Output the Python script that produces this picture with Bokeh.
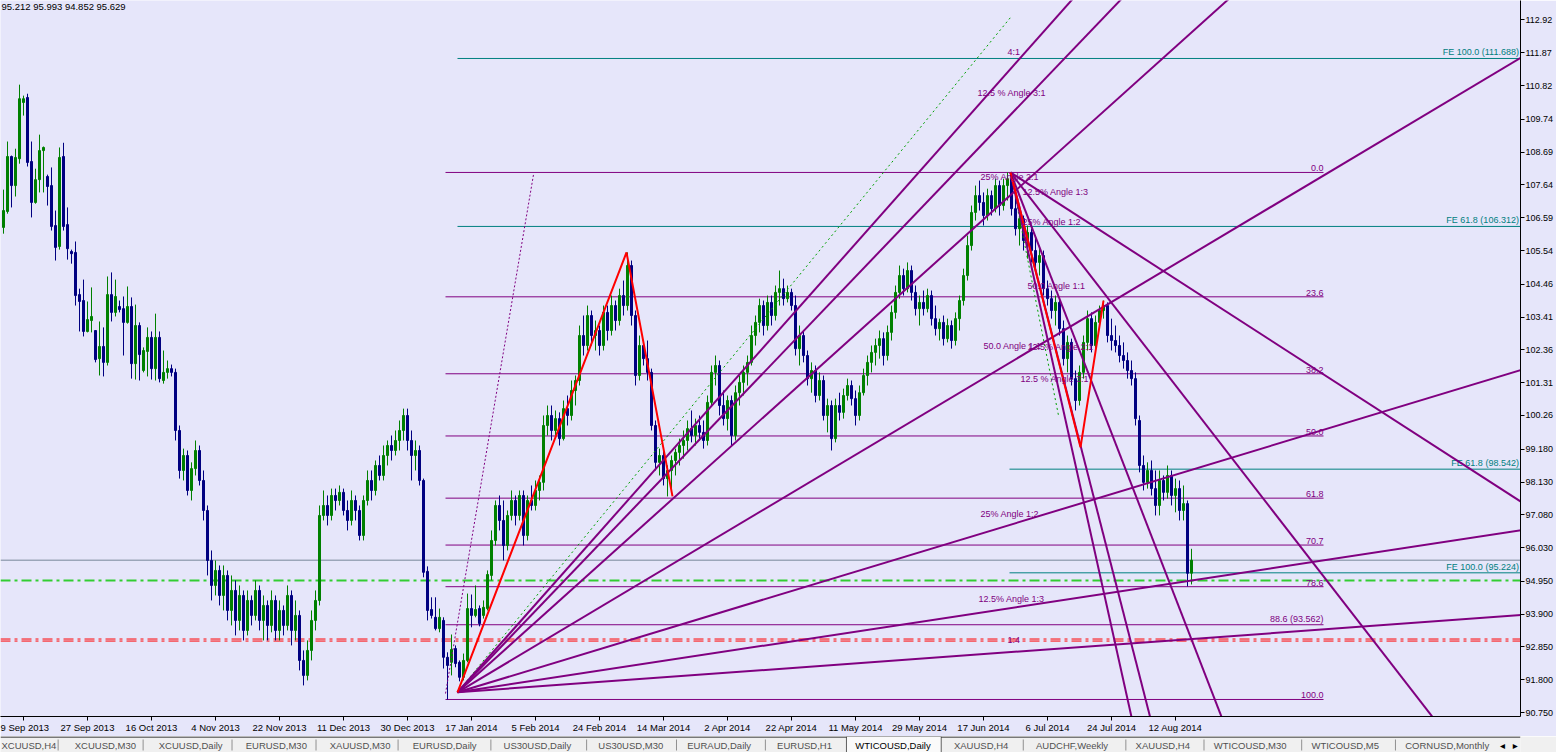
from bokeh.plotting import figure
from bokeh.models import FixedTicker, Range1d, Label
from bokeh.layouts import column
from bokeh.embed import file_html
from bokeh.resources import INLINE
from bokeh.core.properties import value

# ---------------- candles (daily bars, OHLC) ----------------
bar_index = list(range(298))
opens = [
    106.28, 106.79, 108.55, 107.62, 108.48, 110.28, 110.44, 108.39, 107.08, 107.81,
    108.74, 107.91, 107.62, 106.34, 105.67, 108.55, 106.37, 105.51, 105.48, 104.13,
    103.94, 102.95, 103.30, 102.98, 102.08, 102.47, 101.96, 104.13, 103.56, 103.75,
    103.68, 103.24, 103.75, 101.92, 103.14, 101.70, 102.31, 102.76, 101.76, 102.76,
    101.38, 101.64, 101.76, 101.64, 99.78, 98.50, 98.98, 97.86, 98.56, 99.14,
    98.18, 97.22, 95.62, 94.82, 95.30, 94.50, 95.14, 94.02, 94.66, 93.70,
    94.50, 93.38, 94.34, 93.86, 94.66, 93.70, 94.18, 93.54, 94.34, 93.38,
    94.02, 93.54, 94.50, 93.38, 93.86, 92.42, 91.94, 92.74, 93.70, 94.34,
    97.06, 97.38, 97.06, 97.70, 97.54, 97.80, 97.22, 96.90, 97.54, 97.22,
    96.42, 97.54, 98.18, 97.86, 98.66, 98.34, 98.98, 99.30, 99.14, 99.46,
    99.78, 100.26, 99.46, 98.98, 99.14, 98.18, 95.27, 94.05, 93.80, 93.44,
    93.70, 92.52, 92.36, 92.80, 92.36, 91.88, 92.42, 94.08, 93.86, 94.08,
    93.86, 94.08, 95.14, 96.26, 97.38, 96.90, 96.10, 97.06, 97.54, 97.06,
    97.70, 96.42, 97.54, 97.38, 97.86, 98.12, 99.94, 100.26, 99.78, 100.16,
    99.52, 100.48, 100.26, 101.06, 101.38, 102.82, 102.50, 103.46, 102.82, 102.98,
    102.50, 103.56, 102.98, 103.78, 103.30, 104.10, 103.78, 105.06, 103.46, 101.54,
    102.50, 102.08, 101.64, 99.94, 98.76, 98.98, 98.24, 98.50, 98.82, 99.08,
    99.30, 99.46, 99.84, 99.62, 99.94, 99.72, 99.46, 100.68, 101.64, 101.86,
    100.58, 100.16, 100.74, 99.62, 100.99, 101.32, 101.64, 101.96, 102.82, 103.24,
    103.78, 103.14, 103.88, 103.46, 104.20, 104.32, 104.00, 104.20, 103.78, 102.40,
    102.82, 102.18, 101.44, 101.70, 100.90, 101.38, 100.26, 100.58, 99.52, 100.58,
    100.36, 100.90, 101.22, 100.80, 100.26, 100.99, 101.54, 101.96, 102.28, 102.50,
    102.72, 102.18, 102.92, 103.56, 104.20, 104.74, 104.32, 104.90, 104.20, 103.68,
    103.88, 103.68, 104.10, 103.36, 103.04, 103.24, 102.72, 103.14, 102.66, 103.36,
    103.94, 104.74, 105.70, 106.76, 107.30, 107.08, 106.66, 107.30, 106.88, 107.62,
    106.98, 107.62, 107.84, 106.88, 106.24, 106.56, 105.86, 106.12, 105.54, 105.16,
    105.38, 104.32, 104.00, 103.62, 103.88, 103.04, 102.08, 102.60, 101.44, 100.74,
    101.64, 102.60, 103.36, 102.50, 103.24, 103.62, 103.78, 102.82, 102.66, 102.50,
    102.18, 102.02, 101.70, 101.44, 100.10, 98.66, 98.12, 98.50, 97.92, 97.38,
    98.18, 97.80, 98.34, 97.70, 97.92, 97.22, 97.44, 95.212]
highs = [
    107.49, 109.03, 108.58, 108.80, 110.85, 110.50, 110.56, 109.03, 108.16, 109.25,
    108.87, 107.97, 108.20, 106.82, 108.84, 108.99, 106.92, 105.57, 105.83, 104.32,
    104.61, 103.91, 104.36, 102.98, 103.27, 103.08, 104.71, 104.84, 104.61, 103.94,
    104.07, 104.39, 104.04, 103.81, 103.24, 102.44, 103.08, 102.95, 103.52, 102.95,
    102.34, 102.02, 101.89, 101.76, 99.94, 99.20, 99.14, 98.76, 99.46, 99.30,
    98.50, 97.38, 95.94, 95.62, 95.46, 95.46, 95.30, 95.14, 94.98, 94.82,
    94.66, 94.66, 94.50, 94.98, 94.82, 94.50, 94.34, 94.66, 94.50, 94.34,
    94.18, 94.82, 94.66, 94.34, 94.02, 92.74, 93.06, 94.02, 94.66, 97.38,
    97.86, 97.70, 97.92, 97.92, 98.02, 97.92, 97.54, 97.86, 97.70, 97.38,
    97.70, 98.50, 98.50, 98.82, 98.98, 99.30, 99.46, 99.62, 99.78, 100.10,
    100.48, 100.48, 99.78, 99.46, 99.30, 98.24, 95.43, 94.44, 94.44, 94.08,
    93.80, 92.68, 93.25, 92.90, 92.42, 92.64, 94.56, 94.53, 94.82, 94.18,
    94.34, 95.30, 96.58, 97.54, 97.70, 97.54, 97.22, 97.86, 97.70, 97.86,
    97.86, 97.70, 98.02, 98.18, 98.34, 100.26, 100.58, 100.58, 100.42, 100.36,
    100.74, 100.90, 101.38, 101.54, 103.14, 103.46, 103.78, 103.62, 103.30, 103.14,
    103.78, 103.78, 104.10, 103.94, 104.32, 104.58, 105.48, 105.22, 103.62, 102.82,
    102.66, 102.66, 101.76, 100.10, 99.20, 99.14, 98.66, 98.98, 99.20, 99.52,
    99.78, 100.10, 100.42, 100.16, 100.26, 100.10, 100.90, 101.86, 102.18, 102.02,
    101.06, 100.90, 100.90, 101.22, 101.54, 101.86, 102.18, 103.14, 103.46, 104.00,
    103.94, 104.10, 104.10, 104.42, 104.90, 104.64, 104.42, 104.32, 104.10, 103.14,
    102.98, 102.34, 101.96, 101.86, 101.64, 101.54, 100.80, 100.74, 100.80, 100.99,
    101.12, 101.44, 101.38, 101.06, 101.22, 101.76, 102.18, 102.50, 102.72, 102.98,
    102.92, 103.14, 103.78, 104.42, 105.06, 104.96, 105.16, 105.06, 104.42, 104.10,
    104.26, 104.32, 104.26, 103.78, 103.36, 103.46, 103.36, 103.30, 103.56, 104.10,
    104.96, 106.02, 106.98, 107.62, 107.78, 107.40, 107.52, 107.46, 107.84, 107.78,
    107.84, 108.04, 108.04, 107.30, 106.82, 106.66, 106.34, 106.24, 106.02, 105.70,
    105.54, 104.58, 104.26, 104.10, 104.00, 103.30, 102.82, 102.72, 101.70, 101.86,
    102.82, 103.62, 103.56, 103.46, 103.78, 103.94, 103.88, 103.36, 103.14, 102.82,
    102.60, 102.28, 102.02, 101.64, 100.26, 98.98, 98.76, 98.82, 98.50, 98.50,
    98.34, 98.66, 98.50, 98.24, 98.18, 98.02, 97.54, 95.993]
lows = [
    106.08, 106.72, 106.92, 107.27, 108.32, 109.86, 108.23, 106.60, 107.04, 107.40,
    107.40, 106.98, 106.18, 105.22, 105.57, 106.18, 105.25, 105.12, 103.78, 102.95,
    102.79, 102.92, 102.92, 101.96, 101.54, 101.51, 101.86, 103.27, 103.43, 103.56,
    102.18, 103.20, 101.44, 101.41, 101.38, 101.64, 101.51, 101.41, 101.38, 101.32,
    101.28, 101.44, 101.51, 99.46, 98.24, 98.18, 97.70, 97.54, 98.34, 98.02,
    96.90, 95.14, 94.34, 94.50, 94.18, 94.02, 93.70, 93.54, 93.22, 93.38,
    93.06, 93.22, 93.54, 93.70, 93.38, 93.06, 93.06, 93.32, 93.06, 93.06,
    93.22, 93.38, 92.90, 93.06, 92.10, 91.62, 91.78, 92.42, 93.38, 94.18,
    96.90, 96.74, 96.90, 97.22, 97.38, 97.06, 96.58, 96.74, 96.90, 96.26,
    96.26, 97.38, 97.54, 97.70, 98.18, 98.18, 98.66, 98.82, 98.98, 99.14,
    99.46, 99.14, 98.18, 98.50, 98.02, 95.08, 93.70, 93.76, 93.38, 93.32,
    92.16, 91.17, 91.94, 92.20, 91.75, 91.78, 92.36, 93.48, 93.80, 93.51,
    93.76, 94.02, 94.98, 96.10, 96.58, 95.62, 95.94, 96.90, 96.74, 96.90,
    96.10, 96.26, 97.22, 97.22, 97.54, 97.86, 99.62, 99.46, 99.62, 99.30,
    99.46, 99.94, 100.10, 100.58, 101.22, 102.18, 102.34, 102.50, 102.34, 102.18,
    102.34, 102.66, 102.82, 102.98, 103.14, 103.46, 103.62, 103.14, 101.22, 101.38,
    101.86, 101.38, 99.78, 98.50, 98.34, 98.02, 97.67, 97.86, 98.34, 98.66,
    98.88, 99.14, 99.40, 99.30, 99.46, 99.20, 99.30, 100.58, 101.22, 100.26,
    99.94, 99.78, 99.30, 99.46, 100.58, 100.90, 101.22, 101.86, 102.50, 102.92,
    102.82, 102.98, 103.14, 103.30, 103.78, 103.78, 103.88, 103.62, 102.18, 101.86,
    101.96, 101.22, 100.99, 100.68, 100.74, 100.10, 99.72, 99.14, 99.40, 100.10,
    100.16, 100.74, 100.58, 99.94, 100.10, 100.90, 101.22, 101.64, 101.86, 102.08,
    101.86, 102.02, 102.66, 103.36, 104.00, 104.10, 104.20, 103.94, 103.46, 103.14,
    103.46, 103.56, 103.14, 102.82, 102.66, 102.50, 102.60, 102.40, 102.50, 102.98,
    103.78, 104.58, 105.54, 106.50, 106.82, 106.34, 106.50, 106.66, 106.76, 106.66,
    106.82, 107.14, 106.66, 106.02, 105.70, 105.54, 105.28, 105.16, 104.84, 104.74,
    104.10, 103.78, 103.36, 103.14, 102.82, 101.86, 101.64, 101.22, 100.42, 100.58,
    101.44, 102.34, 102.28, 102.34, 103.04, 103.36, 102.60, 102.34, 102.28, 101.96,
    101.76, 101.44, 101.22, 99.94, 98.44, 97.86, 97.92, 97.70, 97.06, 97.06,
    97.54, 97.60, 97.38, 97.16, 96.90, 96.90, 94.79, 94.852]
closes = [
    106.82, 108.55, 107.62, 108.52, 110.40, 110.40, 108.36, 107.08, 107.81, 108.74,
    108.84, 107.59, 106.31, 105.64, 108.52, 106.31, 105.60, 105.44, 104.10, 103.91,
    102.95, 103.33, 103.43, 102.05, 102.47, 101.96, 104.13, 103.56, 104.07, 103.65,
    103.24, 103.75, 101.92, 103.14, 102.21, 102.34, 102.76, 101.76, 102.76, 101.44,
    101.64, 101.76, 101.64, 99.78, 98.50, 98.98, 97.86, 98.56, 99.14, 98.18,
    97.22, 95.62, 94.82, 95.30, 94.50, 95.14, 94.02, 94.66, 93.70, 94.50,
    93.38, 94.34, 93.86, 94.66, 93.70, 94.18, 93.54, 94.34, 93.38, 94.02,
    93.54, 94.50, 93.38, 93.86, 92.42, 91.94, 92.74, 93.70, 94.34, 97.06,
    97.38, 97.06, 97.70, 97.54, 97.80, 97.22, 96.90, 97.54, 97.22, 96.42,
    97.54, 98.18, 97.86, 98.66, 98.34, 98.98, 99.30, 99.14, 99.46, 99.78,
    100.26, 99.46, 98.98, 99.14, 98.18, 95.24, 94.02, 93.86, 93.44, 93.80,
    92.52, 92.26, 92.77, 92.32, 91.88, 92.42, 94.08, 93.86, 94.05, 93.60,
    94.12, 95.17, 96.26, 97.38, 96.90, 96.10, 97.06, 97.54, 97.06, 97.70,
    96.42, 97.54, 97.38, 97.86, 98.12, 99.94, 100.26, 99.78, 100.16, 99.52,
    100.48, 100.26, 101.06, 101.38, 102.82, 102.50, 103.46, 102.82, 102.98, 102.50,
    103.56, 102.98, 103.78, 103.30, 104.10, 103.78, 105.06, 103.46, 101.54, 102.50,
    102.08, 101.64, 99.94, 98.76, 98.98, 98.24, 98.50, 98.82, 99.08, 99.30,
    99.46, 99.84, 99.62, 99.94, 99.72, 99.46, 100.68, 101.64, 101.86, 100.58,
    100.16, 100.74, 99.62, 100.99, 101.32, 101.64, 101.96, 102.82, 103.24, 103.78,
    103.14, 103.88, 103.46, 104.20, 104.32, 104.00, 104.20, 103.78, 102.40, 102.82,
    102.18, 101.44, 101.70, 100.90, 101.38, 100.26, 100.58, 99.52, 100.58, 100.36,
    100.90, 101.22, 100.80, 100.26, 100.99, 101.54, 101.96, 102.28, 102.50, 102.72,
    102.18, 102.92, 103.56, 104.20, 104.74, 104.32, 104.90, 104.20, 103.68, 103.88,
    103.68, 104.10, 103.36, 103.04, 103.24, 102.72, 103.14, 102.66, 103.36, 103.94,
    104.74, 105.70, 106.76, 107.30, 107.08, 106.66, 107.30, 106.88, 107.62, 106.98,
    107.62, 107.84, 106.88, 106.24, 106.56, 105.86, 106.12, 105.54, 105.16, 105.38,
    104.32, 104.00, 103.62, 103.88, 103.04, 102.08, 102.60, 101.44, 100.74, 101.64,
    102.60, 103.36, 102.50, 103.24, 103.62, 103.78, 102.82, 102.66, 102.50, 102.18,
    102.02, 101.70, 101.44, 100.16, 98.66, 98.12, 98.50, 97.92, 97.38, 98.18,
    97.80, 98.34, 97.70, 97.92, 97.22, 97.44, 95.21, 95.629]

# ---------------- axes ----------------
price_ticks = [112.92, 111.87, 110.82, 109.74, 108.69, 107.64, 106.59, 105.54, 104.46, 103.41,
               102.36, 101.31, 100.26, 99.18, 98.13, 97.08, 96.03, 94.95, 93.90, 92.85, 91.80, 90.75]
price_tick_labels = ["112.92", "111.87", "110.82", "109.74", "108.69", "107.64", "106.59", "105.54",
                     "104.46", "103.41", "102.36", "101.31", "100.26", "99.180", "98.130", "97.080",
                     "96.030", "94.950", "93.900", "92.850", "91.800", "90.750"]
date_tick_bars = [5, 21, 37, 53, 69, 85, 101, 117, 133, 149, 165, 181, 197, 213, 229, 245, 261, 277, 293]
date_tick_labels = ["9 Sep 2013", "27 Sep 2013", "16 Oct 2013", "4 Nov 2013", "22 Nov 2013",
                    "11 Dec 2013", "30 Dec 2013", "17 Jan 2014", "5 Feb 2014", "24 Feb 2014",
                    "14 Mar 2014", "2 Apr 2014", "22 Apr 2014", "11 May 2014", "29 May 2014",
                    "17 Jun 2014", "6 Jul 2014", "24 Jul 2014", "12 Aug 2014"]

header_text = "95.212 95.993 94.852 95.629"
last_price = 95.629
green_level = 94.98
red_levels = [93.105, 93.04]

# Fibonacci retracement
fib_bars = [110.5, 330.0]
fib_high, fib_low = 108.04, 91.17
fib_ratios = [0.0, 23.6, 38.2, 50.0, 61.8, 70.7, 78.6, 100.0]
fib_labels = ["0.0", "23.6", "38.2", "50.0", "61.8", "70.7", "78.6", "100.0"]
extra_level = 93.562
extra_label = "88.6 (93.562)"

# Fibonacci expansion
fe_levels = [111.688, 106.312, 98.542, 95.224]
fe_labels = ["FE 100.0 (111.688)", "FE 61.8 (106.312)", "FE 61.8 (98.542)", "FE 100.0 (95.224)"]
fe_start_bars = [113.5, 113.5, 251.5, 251.5]

# Gann fans (origin bar, origin price, slopes in price per bar)
fan1_origin = (113.5, 91.40)
fan1_slopes = [0.1443, 0.1337, 0.1151, 0.0764, 0.0388, 0.0195, 0.0093]
fan2_origin = (251.75, 108.04)
fan2_slopes = [-0.0826, -0.1652, -0.3303, -0.4994, -0.5762]

# zig-zags and dotted lines
red_leg1 = ([113.5, 155.75, 167.25], [91.40, 105.48, 97.67])
red_leg2 = ([251.75, 269.25, 275.0], [108.04, 99.24, 103.94])
green_dot1 = ([113.5, 251.75], [91.40, 113.0])
green_dot2 = ([251.75, 263.75], [108.04, 100.26])
purple_dot = ([110.5, 132.5], [91.36, 107.97])

gann_texts = ["4:1", "12.5 % Angle 3:1", "25%  Angle 2:1", "12.5% Angle 1:3", "25%  Angle 1:2",
              "50.0 Angle 1:1", "50.0 Angle 1:1", "12.5%  Angle 2:1", "12.5 % Angle 3:1",
              "25%  Angle 1:2", "12.5% Angle 1:3", "1:4"]
gann_text_bars = [251.0, 243.5, 244.25, 254.75, 254.75, 256.0, 245.0, 256.0, 254.25, 244.25, 243.75, 251.0]
gann_text_prices = [111.88, 110.57, 107.88, 107.40, 106.44, 104.42, 102.47, 102.44, 101.44, 97.12, 94.40, 93.06]

tab_names = ["XCUUSD,H4", "XCUUSD,M30", "XCUUSD,Daily", "EURUSD,M30", "XAUUSD,M30", "EURUSD,Daily",
             "US30USD,Daily", "US30USD,M30", "EURAUD,Daily", "EURUSD,H1", "WTICOUSD,Daily",
             "XAUUSD,H4", "AUDCHF,Weekly", "XAUUSD,H4", "WTICOUSD,M30", "WTICOUSD,M5", "CORNUSD,Monthly"]
active_tab = "WTICOUSD,Daily"

# ---------------- styles ----------------
BG = "#E6E6FA"
PURPLE = "#800080"
TEAL = "#008080"
FONT = "Liberation Sans"
UP = "#008000"
DOWN = "#000080"

X0, X1 = -0.75, 379.25
X_END = 400
p = figure(frame_width=1520, frame_height=716, x_range=Range1d(X0, X1), y_range=Range1d(90.625, 113.544),
           output_backend="svg", toolbar_location=None, y_axis_location="right",
           min_border_left=0, min_border_top=0, min_border_right=36, min_border_bottom=20,
           background_fill_color=BG, border_fill_color=BG, outline_line_color=None)
p.grid.visible = False

p.yaxis.ticker = FixedTicker(ticks=price_ticks)
p.yaxis.major_label_overrides = {t: l for t, l in zip(price_ticks, price_tick_labels)}
p.xaxis.ticker = FixedTicker(ticks=date_tick_bars)
p.xaxis.major_label_overrides = {t: l for t, l in zip(date_tick_bars, date_tick_labels)}
for ax in (p.xaxis[0], p.yaxis[0]):
    ax.axis_line_color = "black"
    ax.major_tick_line_color = "black"
    ax.minor_tick_line_color = None
    ax.major_tick_in = 0
    ax.major_tick_out = 4
    ax.major_label_text_font = FONT
    ax.major_label_text_font_size = "9px"
    ax.major_label_text_color = "black"
    ax.major_label_standoff = 1
p.xaxis.major_label_text_align = "left"
p.xaxis.major_label_text_font_size = "9.5px"

# horizontal full-width lines
p.segment(x0=[X0], y0=[last_price], x1=[X_END], y1=[last_price], line_color="#778899", line_width=1)
p.segment(x0=[X0], y0=[green_level], x1=[X_END], y1=[green_level], line_color="#32CD32",
          line_width=2, line_dash="10 4 3 4")
for lv in red_levels:
    p.segment(x0=[X0], y0=[lv], x1=[X_END], y1=[lv], line_color="#FF0000", line_width=1,
              line_dash="10 4 3 4")

# fibonacci retracement
fib_prices = [fib_high - r / 100.0 * (fib_high - fib_low) for r in fib_ratios]
n = len(fib_prices)
p.segment(x0=[fib_bars[0]] * n, y0=fib_prices, x1=[fib_bars[1]] * n, y1=fib_prices,
          line_color=PURPLE, line_width=1)
p.segment(x0=[fib_bars[0]], y0=[extra_level], x1=[fib_bars[1]], y1=[extra_level],
          line_color=PURPLE, line_width=1)
p.text(x=[fib_bars[1]] * (n + 1), y=fib_prices + [extra_level], text=fib_labels + [extra_label],
       text_align="right", text_baseline="bottom", y_offset=-1, text_color=PURPLE,
       text_font=value(FONT), text_font_size="9px")

# fibonacci expansion
m = len(fe_levels)
p.segment(x0=fe_start_bars, y0=fe_levels, x1=[X_END] * m, y1=fe_levels, line_color=TEAL, line_width=1)
p.text(x=[X1 - 0.4] * m, y=fe_levels, text=fe_labels, text_align="right", text_baseline="bottom",
       y_offset=-1, text_color=TEAL, text_font=value(FONT), text_font_size="9px")

# candles
up_idx = [i for i in range(len(opens)) if closes[i] >= opens[i]]
dn_idx = [i for i in range(len(opens)) if closes[i] < opens[i]]
for idx, col in ((up_idx, UP), (dn_idx, DOWN)):
    xs = [bar_index[i] for i in idx]
    p.segment(x0=xs, y0=[lows[i] for i in idx], x1=xs, y1=[highs[i] for i in idx],
              line_color=col, line_width=1)
    p.vbar(x=xs, width=0.5, top=[max(opens[i], closes[i]) for i in idx],
           bottom=[min(opens[i], closes[i]) for i in idx], fill_color=col, line_color=col, line_width=1)

# dotted lines
p.line(purple_dot[0], purple_dot[1], line_color=PURPLE, line_width=1, line_dash="2 2")
p.line(green_dot1[0], green_dot1[1], line_color="#00A000", line_width=1, line_dash="2 3")
p.line(green_dot2[0], green_dot2[1], line_color="#00A000", line_width=1, line_dash="2 3")

# gann fans
for (ob, op), slopes in ((fan1_origin, fan1_slopes), (fan2_origin, fan2_slopes)):
    k = len(slopes)
    p.segment(x0=[ob] * k, y0=[op] * k, x1=[X_END] * k, y1=[op + s * (X_END - ob) for s in slopes],
              line_color=PURPLE, line_width=2)

# red zig-zags
p.line(red_leg1[0], red_leg1[1], line_color="#FF0000", line_width=2)
p.line(red_leg2[0], red_leg2[1], line_color="#FF0000", line_width=2)

# gann labels
p.text(x=gann_text_bars, y=gann_text_prices, text=gann_texts, text_align="left", text_baseline="middle",
       text_color=PURPLE, text_font=value(FONT), text_font_size="9px")

# header + current price box
p.add_layout(Label(x=-0.5, y=113.35, text=header_text, text_font=FONT, text_font_size="9.5px",
                   text_color="black", text_baseline="middle"))
p.add_layout(Label(x=X1 + 0.25, y=last_price, text="95.629", text_font=FONT, text_font_size="9px",
                   text_color="white", text_baseline="middle", background_fill_color="black"))

# ---------------- tab bar ----------------
tab_x = [1, 76, 162, 251, 337, 422, 515, 612, 703, 795, 875, 976, 1060, 1162, 1242, 1342, 1438]
sep_x = [59, 146, 237, 323, 407, 502, 600, 692, 783, 1047, 1152, 1232, 1332, 1428]
tf = figure(width=1556, height=16, x_range=Range1d(0, 1556), y_range=Range1d(0, 16),
            x_axis_location=None, y_axis_location=None, output_backend="svg", toolbar_location=None,
            min_border=0, background_fill_color="#F0F0F0", border_fill_color="#F0F0F0",
            outline_line_color=None)
tf.grid.visible = False
tf.quad(left=[866], right=[963], bottom=[-1], top=[16], fill_color="#FAFAFA", line_color="#606060")
tf.segment(x0=[0, 963], y0=[15.5, 15.5], x1=[866, 1556], y1=[15.5, 15.5], line_color="black", line_width=1)
tf.segment(x0=sep_x, y0=[2] * len(sep_x), x1=sep_x, y1=[13] * len(sep_x), line_color="#909090")
tcol = ["black" if t == active_tab else "#505050" for t in tab_names]
tf.text(x=tab_x, y=[7.5] * len(tab_x), text=tab_names, text_color=tcol, text_baseline="middle",
        text_font=value(FONT), text_font_size="9.5px")
tf.text(x=[1535, 1548], y=[7.5, 7.5], text=["\u25c2", "\u25b8"], text_color="black",
        text_baseline="middle", text_font=value("DejaVu Sans"), text_font_size="10px")

layout = column(p, tf, spacing=0)
tpl = "{% block preamble %}<style>html, body {margin:0 !important; padding:0 !important; overflow:hidden;}</style>{% endblock %}"
open("out.html", "w").write(file_html(layout, INLINE, template=tpl))
